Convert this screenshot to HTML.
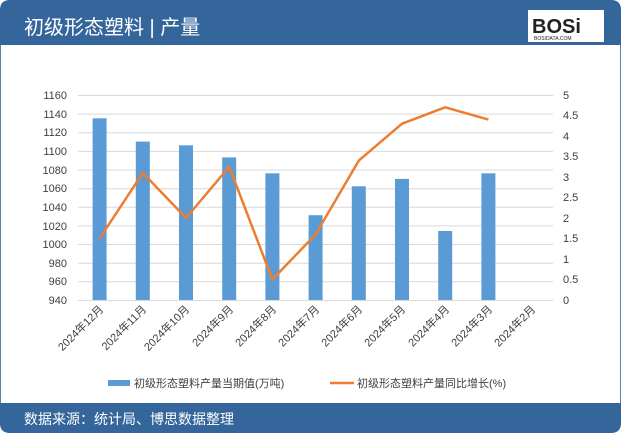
<!DOCTYPE html>
<html><head><meta charset="utf-8"><style>
body{margin:0;background:#fff;}
svg{display:block;font-family:"Liberation Sans","Noto Sans CJK SC",sans-serif;}
</style></head><body>
<svg width="621" height="433" viewBox="0 0 621 433">
<rect x="0.5" y="0.5" width="620" height="432" rx="10" fill="#fff" stroke="#5f7fa6"/>
<path d="M0 10 Q0 0 10 0 H611 Q621 0 621 10 V45 H0Z" fill="#34659b"/>
<text x="24" y="34" font-size="20" fill="#fff">初级形态塑料 | 产量</text>
<rect x="528" y="10" width="76" height="32" fill="#fff"/>
<text x="532" y="33" font-size="20" font-weight="bold" fill="#222">BOSi</text>
<text x="534" y="40" font-size="5" fill="#222">BOSIDATA.COM</text>
<path d="M0 403 H621 V423 Q621 433 611 433 H10 Q0 433 0 423Z" fill="#34659b"/>
<text x="24" y="424" font-size="14" fill="#fff">数据来源：统计局、博思数据整理</text>
<g stroke="#d9d9d9" stroke-width="1">
<line x1="78" x2="553" y1="95.5" y2="95.5"/><line x1="78" x2="553" y1="114.1" y2="114.1"/>
<line x1="78" x2="553" y1="132.8" y2="132.8"/><line x1="78" x2="553" y1="151.4" y2="151.4"/>
<line x1="78" x2="553" y1="170" y2="170"/><line x1="78" x2="553" y1="188.7" y2="188.7"/>
<line x1="78" x2="553" y1="207.3" y2="207.3"/><line x1="78" x2="553" y1="225.9" y2="225.9"/>
<line x1="78" x2="553" y1="244.5" y2="244.5"/><line x1="78" x2="553" y1="263.2" y2="263.2"/>
<line x1="78" x2="553" y1="281.8" y2="281.8"/><line x1="78" x2="553" y1="300.5" y2="300.5"/>
</g>
<g font-size="11" fill="#404040" text-anchor="end">
<text x="67" y="99">1160</text><text x="67" y="118">1140</text><text x="67" y="136">1120</text>
<text x="67" y="155">1100</text><text x="67" y="174">1080</text><text x="67" y="192">1060</text>
<text x="67" y="211">1040</text><text x="67" y="230">1020</text><text x="67" y="248">1000</text>
<text x="67" y="267">980</text><text x="67" y="285">960</text><text x="67" y="304">940</text>
</g>
<g font-size="11" fill="#404040">
<text x="563" y="99">5</text><text x="563" y="119">4.5</text><text x="563" y="140">4</text>
<text x="563" y="160">3.5</text><text x="563" y="181">3</text><text x="563" y="201">2.5</text>
<text x="563" y="222">2</text><text x="563" y="242">1.5</text><text x="563" y="263">1</text>
<text x="563" y="283">0.5</text><text x="563" y="304">0</text>
</g>
<g fill="#5b9bd5">
<rect x="92.6" y="118.3" width="14" height="181.7"/>
<rect x="135.8" y="141.6" width="14" height="158.4"/>
<rect x="179" y="145.3" width="14" height="154.7"/>
<rect x="222.2" y="157.4" width="14" height="142.6"/>
<rect x="265.4" y="173.3" width="14" height="126.7"/>
<rect x="308.6" y="215.2" width="14" height="84.8"/>
<rect x="351.8" y="186.3" width="14" height="113.7"/>
<rect x="395" y="178.9" width="14" height="121.1"/>
<rect x="438.2" y="231" width="14" height="69"/>
<rect x="481.4" y="173.3" width="14" height="126.7"/>
</g>
<polyline fill="none" stroke="#ed7d31" stroke-width="2.5" stroke-linejoin="round" points="99.6,238.5 142.8,172.9 186,218 229.2,166.8 272.4,279.5 315.6,234.4 358.8,160.6 402,123.7 445.2,107.3 488.4,119.6"/>
<g font-size="11" fill="#404040" text-anchor="end">
<text transform="translate(104,310) rotate(-45)">2024年12月</text>
<text transform="translate(147,310) rotate(-45)">2024年11月</text>
<text transform="translate(190,310) rotate(-45)">2024年10月</text>
<text transform="translate(234,310) rotate(-45)">2024年9月</text>
<text transform="translate(277,310) rotate(-45)">2024年8月</text>
<text transform="translate(320,310) rotate(-45)">2024年7月</text>
<text transform="translate(363,310) rotate(-45)">2024年6月</text>
<text transform="translate(406,310) rotate(-45)">2024年5月</text>
<text transform="translate(450,310) rotate(-45)">2024年4月</text>
<text transform="translate(493,310) rotate(-45)">2024年3月</text>
<text transform="translate(536,310) rotate(-45)">2024年2月</text>
</g>
<rect x="108" y="380" width="22" height="6" fill="#5b9bd5"/>
<text x="134" y="387" font-size="11" fill="#404040">初级形态塑料产量当期值(万吨)</text>
<line x1="330" x2="354" y1="383" y2="383" stroke="#ed7d31" stroke-width="2.5"/>
<text x="357" y="387" font-size="11" fill="#404040">初级形态塑料产量同比增长(%)</text>
</svg>
</body></html>
